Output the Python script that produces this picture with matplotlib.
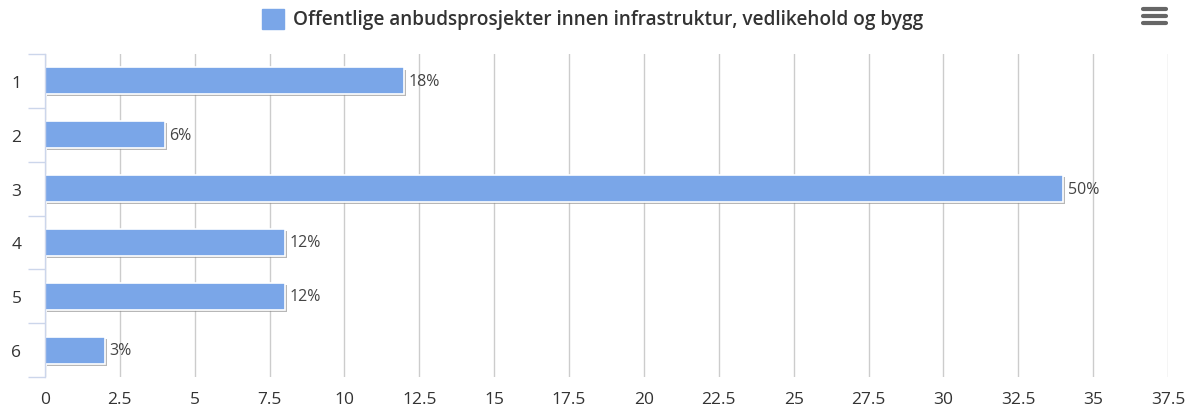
import matplotlib.pyplot as plt
import matplotlib.patheffects as pe
from matplotlib.lines import Line2D
from matplotlib.patches import Rectangle

categories = ['1', '2', '3', '4', '5', '6']
values = [12, 4, 34, 8, 8, 2]
labels = ['18%', '6%', '50%', '12%', '12%', '3%']
xticks = [0, 2.5, 5, 7.5, 10, 12.5, 15, 17.5, 20, 22.5, 25, 27.5, 30, 32.5, 35, 37.5]
series_name = 'Offentlige anbudsprosjekter innen infrastruktur, vedlikehold og bygg'

bar_color = '#7aa6e8'
text_color = '#333333'
W, H = 1187, 410

plt.rcParams['font.family'] = ['Open Sans', 'DejaVu Sans']
fig = plt.figure(figsize=(W / 100, H / 100), dpi=100)
ax = fig.add_axes([45 / W, 32 / H, (1168 - 45) / W, (378 - 55) / H])

pos = list(range(1, len(categories) + 1))
bars = ax.barh(pos, values, height=0.5, color=bar_color, edgecolor='white', linewidth=1.2, zorder=3)
for b in bars:
    b.set_path_effects([pe.SimplePatchShadow(offset=(1.5, -1.5), shadow_rgbFace='#888888', alpha=0.6), pe.Normal()])
for p, v, l in zip(pos, values, labels):
    ax.text(v + 0.15, p, l, va='center', ha='left', fontsize=11.5, color='#444444', zorder=4)

ax.set_xlim(0, 37.5)
ax.set_ylim(6.5, 0.5)
ax.set_xticks(xticks)
ax.set_xticklabels([f'{t:g}' for t in xticks])
ax.set_yticks(pos)
ax.set_yticklabels(categories)
ax.set_yticks([0.5 + i for i in range(7)], minor=True)
ax.tick_params(axis='y', which='major', length=0, pad=17, labelsize=12.5, labelcolor=text_color)
ax.tick_params(axis='y', which='minor', length=12, width=1, color='#ccd6eb')
ax.tick_params(axis='x', length=0, pad=10, labelsize=12.5, labelcolor=text_color)
ax.grid(axis='x', color='#cccccc', linewidth=1, zorder=0)
for s in ['top', 'right', 'bottom']:
    ax.spines[s].set_visible(False)
ax.spines['left'].set_color('#ccd6eb')
ax.spines['left'].set_linewidth(1)
ax.spines['left'].set_zorder(5)

# legend at top
fig.add_artist(Rectangle((262 / W, 1 - 30 / H), 22 / W, 20 / H, transform=fig.transFigure, color=bar_color))
fig.text(293 / W, 1 - 20 / H, series_name, ha='left', va='center', fontsize=13.7, fontweight='semibold', color=text_color)

# menu icon
for yy in [10, 17, 24]:
    fig.add_artist(Line2D([1143 / W, 1166 / W], [1 - yy / H, 1 - yy / H], transform=fig.transFigure,
                          color='#666666', linewidth=3, solid_capstyle='round'))

fig.savefig('out.png', dpi=100)
